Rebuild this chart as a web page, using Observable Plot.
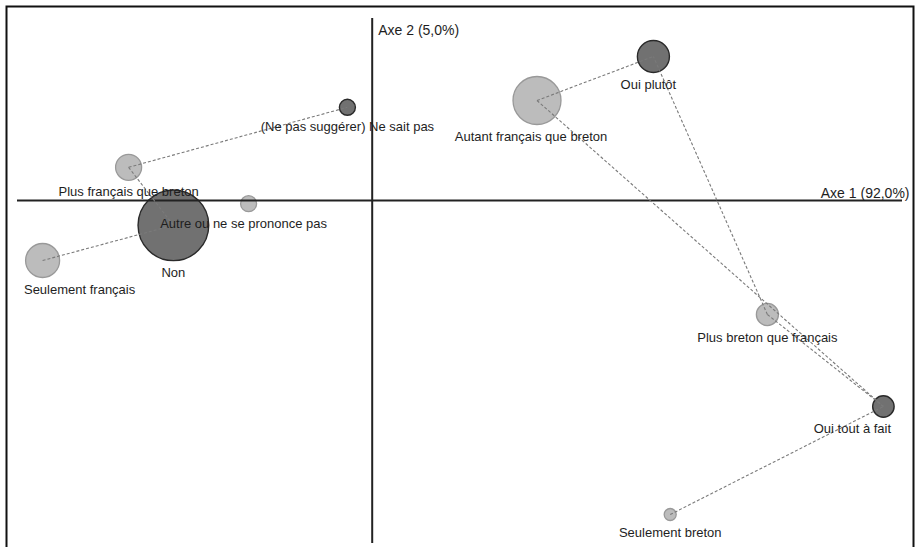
<!DOCTYPE html>
<html>
<head>
<meta charset="utf-8">
<script src="https://cdn.jsdelivr.net/npm/d3@7"></script>
<script src="https://cdn.jsdelivr.net/npm/@observablehq/plot@0.6"></script>
<style>
  html, body { margin: 0; padding: 0; background: #fff; overflow: hidden; }
  #chart svg { display: block; }
</style>
</head>
<body>
<div id="chart"></div>
<script>
// --- Données (coordonnées factorielles) ---
const modalites = [
  "(Ne pas suggérer) Ne sait pas",
  "Plus français que breton",
  "Non",
  "Autre ou ne se prononce pas",
  "Seulement français",
  "Autant français que breton",
  "Oui plutôt",
  "Plus breton que français",
  "Oui tout à fait",
  "Seulement breton"
];
const axe1 = [-0.062, -0.609, -0.497, -0.309, -0.824, 0.412, 0.703, 0.988, 1.278, 0.745];
const axe2 = [0.233, 0.083, -0.062, -0.008, -0.150, 0.250, 0.360, -0.285, -0.515, -0.785];
const poids = [3.9, 10.3, 76.0, 3.9, 17.6, 35.0, 15.6, 7.4, 7.0, 2.2];
const groupe = ["réponse", "identité", "réponse", "identité", "identité",
                "identité", "réponse", "identité", "réponse", "identité"];

const liensDe = ["Seulement français", "Plus français que breton", "Plus français que breton",
                 "Autant français que breton", "Autant français que breton",
                 "Plus breton que français", "Plus breton que français", "Seulement breton"];
const liensA  = ["Non", "Non", "(Ne pas suggérer) Ne sait pas",
                 "Oui plutôt", "Oui tout à fait",
                 "Oui plutôt", "Oui tout à fait", "Oui tout à fait"];

const titreAxe1 = "Axe 1 (92,0%)";
const titreAxe2 = "Axe 2 (5,0%)";

// --- Tables construites ---
const points = modalites.map((m, i) => ({nom: m, x: axe1[i], y: axe2[i], poids: poids[i], groupe: groupe[i]}));
const byName = new Map(points.map(p => [p.nom, p]));
const liens = liensDe.map((a, i) => ({a: byName.get(a), b: byName.get(liensA[i])}));

// --- Mise en forme (styles, pas données) ---
const W = 917, H = 547, PX = 400;           // pixels par unité (échelle isotrope)
const ox = 371.7, oy = 200;                  // position de l'origine dans la figure
const rMax = 35;
const rScale = {type: "sqrt", domain: [0, d3.max(poids)], range: [0, rMax * Math.sqrt(d3.max(poids) / 74.5)]};
const rOf = v => rScale.range[1] * Math.sqrt(v / rScale.domain[1]);
const labelDx = {
  "Seulement français": 37,
  "Oui tout à fait": -31,
  "Autant français que breton": -6,
  "Autre ou ne se prononce pas": -5,
  "Oui plutôt": -5
};
const font = "'Liberation Sans', Arial, sans-serif";

const chart = Plot.plot({
  width: W, height: H,
  marginTop: 0, marginRight: 0, marginBottom: 0, marginLeft: 0,
  style: {fontFamily: font, background: "#fff", overflow: "visible"},
  x: {domain: [-ox / PX, (W - ox) / PX], axis: null},
  y: {domain: [-(H - oy) / PX, oy / PX], axis: null},
  r: rScale,
  marks: [
    Plot.frame({stroke: "#111", strokeWidth: 2, insetLeft: 6, insetTop: 6, insetRight: 4, insetBottom: -20}),
    Plot.dot(points.filter(p => p.groupe === "identité"),
      {x: "x", y: "y", r: "poids", fill: "#bcbcbc", stroke: "#999", strokeWidth: 1.3}),
    Plot.dot(points.filter(p => p.groupe === "réponse"),
      {x: "x", y: "y", r: "poids", fill: "#717171", stroke: "#2a2a2a", strokeWidth: 1.4}),
    Plot.ruleY([0], {stroke: "#222", strokeWidth: 2, insetLeft: 17, insetRight: 15}),
    Plot.ruleX([0], {stroke: "#222", strokeWidth: 2, insetTop: 18, insetBottom: 4}),
    Plot.link(liens, {
      x1: d => d.a.x, y1: d => d.a.y, x2: d => d.b.x, y2: d => d.b.y,
      stroke: "#7a7a7a", strokeWidth: 1.1, strokeDasharray: "3,2"
    }),
    ...points.map(p => Plot.text([p], {
      x: "x", y: "y", text: "nom",
      dy: rOf(p.poids) + 12, dx: labelDx[p.nom] || 0,
      fontSize: 13, fill: "#1e1e1e"
    })),
    Plot.text([titreAxe1], {
      y: () => 0, frameAnchor: "right", text: d => d,
      textAnchor: "end", dx: -8, dy: -7, fontSize: 14, fill: "#1e1e1e"
    }),
    Plot.text([titreAxe2], {
      x: () => 0, frameAnchor: "top", text: d => d,
      textAnchor: "start", dx: 6, dy: 25, fontSize: 14, fill: "#1e1e1e"
    })
  ]
});
document.getElementById("chart").appendChild(chart);
</script>
</body>
</html>
